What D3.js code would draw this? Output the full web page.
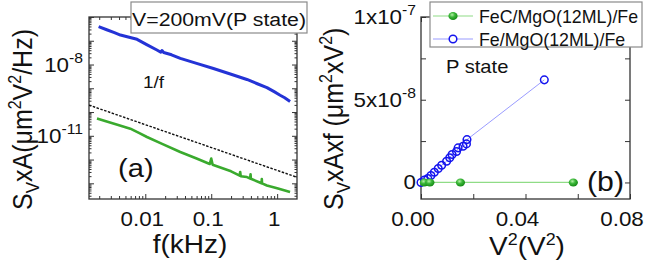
<!DOCTYPE html>
<html>
<head>
<meta charset="utf-8">
<script src="https://cdn.jsdelivr.net/npm/d3@7"></script>
<style>
  body { margin: 0; background: #fff; }
  svg { display: block; font-family: "Liberation Sans", Arial, sans-serif; }
</style>
</head>
<body>
<div id="chart"></div>
<script>
// ---- panel (a): noise spectra S_V x A vs f ----
const blueFreq  = [0.00196, 0.0026, 0.0034, 0.0042, 0.0055, 0.0075, 0.0105, 0.0150, 0.0172, 0.0179, 0.0190, 0.025, 0.034, 0.060, 0.108, 0.200, 0.348, 0.500, 0.700, 0.900, 1.11, 1.30, 1.57];
const blueNoise = [3.9e-7, 2.9e-7, 2.2e-7, 1.74e-7, 1.44e-7, 1.15e-7, 6.9e-8, 4.1e-8, 3.3e-8, 3.9e-8, 3.2e-8, 2.57e-8, 1.81e-8, 1.12e-8, 6.8e-9, 3.9e-9, 2.35e-9, 1.55e-9, 1.07e-9, 7.2e-10, 5.1e-10, 4.0e-10, 2.8e-10];

const greenFreq  = [0.00185, 0.0026, 0.0040, 0.00593, 0.0080, 0.0106, 0.0180, 0.0339, 0.060, 0.095, 0.100, 0.105, 0.200, 0.270, 0.275, 0.280, 0.348, 0.390, 0.395, 0.400, 0.580, 0.585, 0.590, 0.698, 1.00, 1.57];
const greenNoise = [5.3e-11, 4.0e-11, 2.8e-11, 2.0e-11, 1.32e-11, 8.9e-12, 4.6e-12, 2.08e-12, 1.1e-12, 6.5e-13, 1.1e-12, 6.0e-13, 3.2e-13, 2.1e-13, 3.0e-13, 2.0e-13, 1.83e-13, 1.6e-13, 2.4e-13, 1.55e-13, 1.0e-13, 1.5e-13, 1.0e-13, 8.1e-14, 6.2e-14, 4.3e-14];

const slopeFreq  = [0.0014, 2.0];
const slopeNoise = [1.95e-10, 1.8e-13];

const freqTicks = [0.01, 0.1, 1];
const freqTickLabels = ["0.01", "0.1", "1"];
const noiseTicks = [1e-8, 1e-11];
const noiseTickExps = ["-8", "-11"];

// ---- panel (b): S_V x A x f vs V^2 ----
const feVsq = [0, 0.0013, 0.0026, 0.0038, 0.0051, 0.0066, 0.0079, 0.0098, 0.0110, 0.0119, 0.0136, 0.0142, 0.0161, 0.0174, 0.0176, 0.0472];
const feSaf = [0, 1.5e-9, 2.4e-9, 4.2e-9, 6.2e-9, 8.4e-9, 1.04e-8, 1.28e-8, 1.49e-8, 1.69e-8, 1.87e-8, 2.09e-8, 2.19e-8, 2.33e-8, 2.59e-8, 6.2e-8];
const fecVsq = [0.0013, 0.0034, 0.0151, 0.0583];
const fecSaf = [0, 0, 0, 0];

const vsqTicks = [0, 0.04, 0.08];
const vsqTickLabels = ["0.00", "0.04", "0.08"];
const safTicks = [0, 5e-8, 1e-7];
const safTickBase = ["0", "5x10", "1x10"];
const safTickExps = ["", "-8", "-7"];

const legendNames = ["FeC/MgO(12ML)/Fe", "Fe/MgO(12ML)/Fe"];

const width = 654, height = 262;
const sx = 1.12; // the original figure is a bit stretched sideways

const svg = d3.select("#chart").append("svg")
  .attr("width", width).attr("height", height);

const defs = svg.append("defs");
const grad = defs.append("radialGradient").attr("id", "ball")
  .attr("cx", "40%").attr("cy", "35%").attr("r", "65%");
grad.append("stop").attr("offset", "0%").attr("stop-color", "#b8f0a8");
grad.append("stop").attr("offset", "45%").attr("stop-color", "#3cb83a");
grad.append("stop").attr("offset", "100%").attr("stop-color", "#158a15");

function label(x, y, size, rotate) {
  return svg.append("text")
    .attr("transform", `translate(${x},${y}) scale(${sx},1)` + (rotate ? " rotate(-90)" : ""))
    .attr("font-size", size)
    .attr("fill", "#111");
}

// ================= panel (a) =================
const xA = d3.scaleLog().domain([0.0014, 2.0]).range([89, 297]);
const yA = d3.scaleLog().domain([Math.pow(10, -13.66), 1e-6]).range([199, 17]);

const gA = svg.append("g");
gA.append("clipPath").attr("id", "clipA").append("rect")
  .attr("x", 89).attr("y", 17).attr("width", 208).attr("height", 182);

const minorX = [];
[0.001, 0.01, 0.1, 1].forEach(d => { for (let k = 2; k <= 9; k++) minorX.push(d * k); });
const minorXA = minorX.filter(v => v > 0.0014 && v < 2.0);
const majorY = d3.range(-13, -5).map(e => Math.pow(10, e));
const minorY = [];
d3.range(-14, -6).forEach(e => { for (let k = 2; k <= 9; k++) minorY.push(k * Math.pow(10, e)); });
const minorYA = minorY.filter(v => v > yA.domain()[0] && v < 1e-6);

function ticksA(axisFn, scale, vals, size, transform) {
  gA.append("g").attr("transform", transform)
    .call(axisFn(scale).tickValues(vals).tickSize(size).tickFormat(""))
    .call(g => g.select(".domain").remove())
    .selectAll("line").attr("stroke", "#333").attr("stroke-width", 1);
}
ticksA(d3.axisBottom, xA, freqTicks, -5, "translate(0,199)");
ticksA(d3.axisBottom, xA, minorXA, -3, "translate(0,199)");
ticksA(d3.axisTop, xA, freqTicks, -5, "translate(0,17)");
ticksA(d3.axisTop, xA, minorXA, -3, "translate(0,17)");
ticksA(d3.axisLeft, yA, majorY, -5, "translate(89,0)");
ticksA(d3.axisLeft, yA, minorYA, -2.5, "translate(89,0)");
ticksA(d3.axisRight, yA, majorY, -5, "translate(297,0)");
ticksA(d3.axisRight, yA, minorYA, -2.5, "translate(297,0)");

gA.append("rect").attr("x", 89).attr("y", 17).attr("width", 208).attr("height", 182)
  .attr("fill", "none").attr("stroke", "#333").attr("stroke-width", 1.3);

const lineA = d3.line().x(d => xA(d[0])).y(d => yA(d[1]));
const plotA = gA.append("g").attr("clip-path", "url(#clipA)");
plotA.append("path").datum(d3.zip(slopeFreq, slopeNoise))
  .attr("d", lineA).attr("fill", "none").attr("stroke", "#111")
  .attr("stroke-width", 1.4).attr("stroke-dasharray", "2.5,1.5");
plotA.append("path").datum(d3.zip(greenFreq, greenNoise))
  .attr("d", lineA).attr("fill", "none").attr("stroke", "#3aaa2e")
  .attr("stroke-width", 2.6).attr("stroke-linejoin", "round");
plotA.append("path").datum(d3.zip(blueFreq, blueNoise))
  .attr("d", lineA).attr("fill", "none").attr("stroke", "#2433d6")
  .attr("stroke-width", 3).attr("stroke-linejoin", "round");

// tick labels (a)
freqTicks.forEach((v, i) => {
  label(xA(v) - 3, 226, 20).attr("text-anchor", "middle").text(freqTickLabels[i]);
});
noiseTicks.forEach((v, i) => {
  const t = label(83, yA(v) + 7, 20).attr("text-anchor", "end");
  t.append("tspan").text("10");
  t.append("tspan").attr("dy", -9).attr("font-size", 14).text(noiseTickExps[i]);
});

// axis titles (a)
label(190, 253, 25).attr("text-anchor", "middle").text("f(kHz)");
{
  const t = label(32, 210, 25, true).attr("text-anchor", "start");
  t.append("tspan").text("S");
  t.append("tspan").attr("dy", 6).attr("font-size", 17).text("V");
  t.append("tspan").attr("dy", -6).text("xA(\u03bcm");
  t.append("tspan").attr("dy", -10).attr("font-size", 16).text("2");
  t.append("tspan").attr("dy", 10).text("V");
  t.append("tspan").attr("dy", -10).attr("font-size", 16).text("2");
  t.append("tspan").attr("dy", 10).text("/Hz)");
}

label(143, 88, 17).text("1/f");
label(118, 177, 26).text("(a)");

// legend box (a)
svg.append("rect").attr("x", 131).attr("y", 2).attr("width", 176).attr("height", 31)
  .attr("fill", "#fff").attr("stroke", "#8a8a8a").attr("stroke-width", 1.2);
label(219, 26, 19).attr("text-anchor", "middle").text("V=200mV(P state)");

// ================= panel (b) =================
const xB = d3.scaleLinear().domain([0, 0.08]).range([421, 630]);
const yB = d3.scaleLinear().domain([-1e-8, 1e-7]).range([199, 17]);
const gB = svg.append("g");

const xBTicks = d3.range(0, 0.0801, 0.02);
const yBTicks = d3.range(0, 1.01e-7, 2.5e-8);
function ticksB(axisFn, scale, vals, transform) {
  gB.append("g").attr("transform", transform)
    .call(axisFn(scale).tickValues(vals).tickSize(-5).tickFormat(""))
    .call(g => g.select(".domain").remove())
    .selectAll("line").attr("stroke", "#333").attr("stroke-width", 1);
}
ticksB(d3.axisBottom, xB, xBTicks, "translate(0,199)");
ticksB(d3.axisTop, xB, xBTicks, "translate(0,17)");
ticksB(d3.axisLeft, yB, yBTicks, "translate(421,0)");
ticksB(d3.axisRight, yB, yBTicks, "translate(630,0)");
gB.append("rect").attr("x", 421).attr("y", 17).attr("width", 209).attr("height", 182)
  .attr("fill", "none").attr("stroke", "#333").attr("stroke-width", 1.3);

const lineB = d3.line().x(d => xB(d[0])).y(d => yB(d[1]));
gB.append("path").datum(d3.zip(fecVsq, fecSaf)).attr("d", lineB)
  .attr("fill", "none").attr("stroke", "#8fdc86").attr("stroke-width", 1.2);
gB.append("path").datum(d3.zip(feVsq, feSaf)).attr("d", lineB)
  .attr("fill", "none").attr("stroke", "#9a9cff").attr("stroke-width", 1);

gB.selectAll("circle.fe").data(d3.zip(feVsq, feSaf)).join("circle")
  .attr("class", "fe")
  .attr("cx", d => xB(d[0])).attr("cy", d => yB(d[1])).attr("r", 3.8)
  .attr("fill", "none").attr("stroke", "#1414ee").attr("stroke-width", 1.5);
gB.selectAll("ellipse.fec").data(d3.zip(fecVsq, fecSaf)).join("ellipse")
  .attr("class", "fec")
  .attr("cx", d => xB(d[0])).attr("cy", d => yB(d[1])).attr("rx", 4.6).attr("ry", 4)
  .attr("fill", "url(#ball)");

// tick labels (b)
vsqTicks.forEach((v, i) => {
  label(xB(v) - 8, 226, 20).attr("text-anchor", "middle").text(vsqTickLabels[i]);
});
safTicks.forEach((v, i) => {
  const t = label(416, yB(v) + 7, 20).attr("text-anchor", "end");
  t.append("tspan").text(safTickBase[i]);
  if (safTickExps[i]) t.append("tspan").attr("dy", -9).attr("font-size", 14).text(safTickExps[i]);
});

// axis titles (b)
{
  const t = label(527, 255, 25).attr("text-anchor", "middle");
  t.append("tspan").text("V");
  t.append("tspan").attr("dy", -10).attr("font-size", 16).text("2");
  t.append("tspan").attr("dy", 10).text("(V");
  t.append("tspan").attr("dy", -10).attr("font-size", 16).text("2");
  t.append("tspan").attr("dy", 10).text(")");
}
{
  const t = label(343, 210, 25, true).attr("text-anchor", "start");
  t.append("tspan").text("S");
  t.append("tspan").attr("dy", 6).attr("font-size", 17).text("V");
  t.append("tspan").attr("dy", -6).text("xAxf (\u03bcm");
  t.append("tspan").attr("dy", -10).attr("font-size", 16).text("2");
  t.append("tspan").attr("dy", 10).text("xV");
  t.append("tspan").attr("dy", -10).attr("font-size", 16).text("2");
  t.append("tspan").attr("dy", 10).text(")");
}

label(446, 73, 18).text("P state");
label(587, 191, 27).text("(b)");

// legend (b)
svg.append("rect").attr("x", 430).attr("y", 2).attr("width", 212).attr("height", 45)
  .attr("fill", "#fff").attr("stroke", "#8a8a8a").attr("stroke-width", 1.2);
const legRows = [
  { y: 16, stroke: "#8fdc86", marker: "ball" },
  { y: 39, stroke: "#9a9cff", marker: "ring" }
];
legRows.forEach((r, i) => {
  svg.append("line").attr("x1", 433).attr("x2", 473).attr("y1", r.y).attr("y2", r.y)
    .attr("stroke", r.stroke).attr("stroke-width", 1.2);
  if (r.marker === "ball") {
    svg.append("ellipse").attr("cx", 453).attr("cy", r.y).attr("rx", 4.6).attr("ry", 4)
      .attr("fill", "url(#ball)");
  } else {
    svg.append("circle").attr("cx", 453).attr("cy", r.y).attr("r", 3.8)
      .attr("fill", "#fff").attr("stroke", "#1414ee").attr("stroke-width", 1.5);
  }
  svg.append("text").attr("x", 479).attr("y", r.y + 6.5).attr("font-size", 17.8)
    .attr("fill", "#111").text(legendNames[i]);
});
</script>
</body>
</html>
